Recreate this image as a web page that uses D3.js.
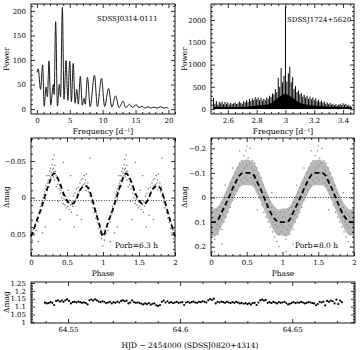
<!DOCTYPE html>
<html>
<head>
<meta charset="utf-8">
<script src="https://cdn.jsdelivr.net/npm/d3@7"></script>
<style>
body { margin: 0; background: #fff; }
</style>
</head>
<body>
<div id="chart"></div>
<script>
// periodogram of SDSSJ0314-0111 (peaks and troughs)
const freq1 = [0,0.2,0.55,0.87,1.1,1.4,1.6,1.83,2.1,2.5,2.62,2.85,3.12,3.4,3.6,3.87,4.12,4.43,4.7,4.99,5.25,5.52,5.8,6.06,6.3,6.6,6.9,7.15,7.35,7.68,8.1,8.75,9.2,9.82,10.3,10.9,11.4,11.96,12.5,13.1,13.5,14.1,14.5,15.1,15.5,16.0,16.4,16.9,17.3,17.8,18.3,18.8,19.3,19.7,20]
const pow1  = [75,82,40,90,6,45,25,98,8,50,30,178,6,50,25,207,20,99,18,98,15,93,12,40,10,67,8,22,10,65,5,69,5,63,5,42,4,27,3,16,3,10,3,9,3,6,2,5,2,4,2,5,2,3,2]

// periodogram of SDSSJ1724+5620: spike heights every 0.01 d-1 from 2.50
const freq2Start = 2.50, freq2Step = 0.01
const pow2 = [250,120,180,100,160,130,170,110,160,120,
  150,100,140,110,130,150,110,130,170,140,
  120,180,150,200,160,230,180,240,200,270,
  220,260,200,250,190,230,200,260,230,300,
  270,350,330,450,380,700,500,920,600,750,
  2300,620,800,950,600,720,450,520,380,420,
  330,360,280,320,260,300,230,280,220,260,
  200,240,180,210,160,190,140,170,120,150,
  110,140,100,120,90,110,80,100,120,90,
  130,100,120,80,100,70,50]
// floor of the forest, every 0.05 d-1
const floorFreq = [2.5,2.55,2.6,2.65,2.7,2.75,2.8,2.85,2.9,2.95,3.0,3.05,3.1,3.15,3.2,3.25,3.3,3.35,3.4,3.45,3.46]
const floorPow  = [45,50,45,45,50,60,80,90,130,260,340,250,140,95,80,65,55,50,45,40,30]

// folded light curve SDSSJ0314-0111 (Porb = 6.3 h), phase 0..1
const fit3Phase = [0,0.05,0.1,0.15,0.2,0.25,0.32,0.4,0.45,0.5,0.56,0.62,0.68,0.75,0.8,0.85,0.9,0.95,1]
const fit3Mag   = [0.053,0.04,0.026,0.012,-0.004,-0.019,-0.033,-0.02,-0.006,0.004,0.009,0.004,-0.01,-0.016,-0.012,0.002,0.02,0.037,0.053]
const obs3 = [[0.01,0.05],[0.02,0.058],[0.03,0.044],[0.04,0.049],[0.05,0.04],[0.06,0.036],[0.07,0.045],[0.08,0.03],[0.09,0.028],[0.1,0.033],
  [0.11,0.02],[0.12,0.022],[0.13,0.012],[0.14,0.018],[0.15,0.008],[0.16,0.004],[0.16,0.048],[0.17,0.0],[0.18,-0.004],[0.19,-0.008],
  [0.2,0.002],[0.2,-0.012],[0.21,-0.016],[0.22,-0.01],[0.22,-0.03],[0.23,-0.02],[0.24,-0.024],[0.25,-0.03],[0.25,-0.015],[0.26,-0.036],
  [0.27,-0.028],[0.27,-0.04],[0.28,-0.034],[0.29,-0.045],[0.29,-0.03],[0.3,-0.038],[0.3,-0.052],[0.31,-0.04],[0.31,-0.028],[0.32,-0.035],
  [0.32,-0.058],[0.33,-0.044],[0.33,-0.024],[0.34,-0.036],[0.35,-0.03],[0.35,-0.015],[0.36,-0.026],[0.37,-0.018],[0.38,-0.022],[0.38,0.005],
  [0.39,-0.012],[0.4,-0.016],[0.41,-0.006],[0.42,-0.01],[0.43,0.0],[0.44,-0.004],[0.45,0.008],[0.45,-0.048],[0.46,0.002],[0.47,0.01],
  [0.48,-0.002],[0.49,0.014],[0.5,0.006],[0.51,0.012],[0.52,-0.01],[0.53,0.016],[0.54,0.004],[0.55,0.01],[0.56,0.02],[0.57,0.006],
  [0.58,0.012],[0.59,-0.002],[0.6,0.008],[0.61,-0.006],[0.62,0.002],[0.63,-0.012],[0.64,0.024],[0.65,-0.004],[0.66,-0.014],[0.67,-0.008],
  [0.68,-0.02],[0.69,-0.012],[0.7,-0.024],[0.71,-0.016],[0.72,-0.026],[0.73,-0.018],[0.74,-0.03],[0.75,-0.02],[0.76,-0.024],[0.76,-0.01],
  [0.77,-0.032],[0.78,-0.016],[0.79,-0.02],[0.8,-0.008],[0.81,-0.014],[0.82,-0.002],[0.82,-0.054],[0.83,-0.006],[0.84,0.006],[0.85,0.002],
  [0.86,0.014],[0.87,0.008],[0.88,0.02],[0.89,0.016],[0.9,0.028],[0.91,0.022],[0.92,0.034],[0.93,0.03],[0.94,0.042],[0.95,0.036],
  [0.96,0.048],[0.97,0.044],[0.98,0.056],[0.99,0.05],[0.995,0.066],[0.1,0.06],[0.55,-0.03],[0.6,0.04],[0.4,0.03],[0.7,0.03],[0.2,0.04]]
const mean3 = 0.004

// folded light curve SDSSJ1724+5620 (Porb = 8.0 h), phase 0..1
const fit4Phase = [0,0.05,0.1,0.15,0.2,0.25,0.3,0.35,0.4,0.45,0.5,0.55,0.6,0.65,0.7,0.75,0.8,0.85,0.9,0.95,1]
const fit4Mag   = [0.1,0.1,0.09,0.06,0.03,0.0,-0.035,-0.065,-0.09,-0.1,-0.1,-0.1,-0.09,-0.06,-0.03,0.005,0.04,0.07,0.09,0.1,0.1]
const cloud4Top = [0.045,0.045,0.035,0.01,-0.02,-0.055,-0.085,-0.115,-0.14,-0.15,-0.155,-0.15,-0.14,-0.115,-0.08,-0.045,-0.01,0.02,0.04,0.05,0.045]
const cloud4Bot = [0.155,0.16,0.145,0.115,0.085,0.05,0.015,-0.015,-0.04,-0.05,-0.05,-0.05,-0.04,-0.01,0.02,0.055,0.09,0.12,0.145,0.155,0.155]
const obs4 = [[0.01,0.12],[0.02,0.06],[0.03,0.15],[0.04,0.08],[0.05,0.17],[0.06,0.1],[0.07,0.13],[0.08,0.05],[0.09,0.11],[0.1,0.15],
  [0.11,0.07],[0.12,0.12],[0.13,0.04],[0.14,0.09],[0.15,0.13],[0.16,0.02],[0.17,0.07],[0.18,0.1],[0.19,0.0],[0.2,0.05],
  [0.21,0.08],[0.22,-0.02],[0.23,0.03],[0.24,0.06],[0.25,-0.04],[0.26,0.0],[0.27,0.04],[0.28,-0.06],[0.29,-0.02],[0.3,0.01],
  [0.31,-0.08],[0.32,-0.04],[0.33,-0.01],[0.34,-0.1],[0.35,-0.06],[0.36,-0.03],[0.37,-0.12],[0.38,-0.08],[0.39,-0.05],[0.4,-0.14],
  [0.41,-0.1],[0.42,-0.07],[0.43,-0.15],[0.44,-0.11],[0.45,-0.06],[0.46,-0.17],[0.47,-0.12],[0.48,-0.08],[0.49,-0.19],[0.5,-0.13],
  [0.51,-0.07],[0.52,-0.16],[0.53,-0.1],[0.54,-0.14],[0.55,-0.2],[0.56,-0.08],[0.57,-0.12],[0.58,-0.15],[0.59,-0.06],[0.6,-0.11],
  [0.61,-0.14],[0.62,-0.05],[0.63,-0.09],[0.64,-0.12],[0.65,-0.03],[0.66,-0.07],[0.67,-0.1],[0.68,0.0],[0.69,-0.04],[0.7,-0.08],
  [0.71,0.03],[0.72,-0.01],[0.73,-0.05],[0.74,0.06],[0.75,0.02],[0.76,-0.02],[0.77,0.08],[0.78,0.04],[0.79,0.0],[0.8,0.1],
  [0.81,0.06],[0.82,0.02],[0.83,0.12],[0.84,0.08],[0.85,0.04],[0.86,0.14],[0.87,0.1],[0.88,0.06],[0.89,0.16],[0.9,0.11],
  [0.91,0.07],[0.92,0.18],[0.93,0.12],[0.94,0.08],[0.95,0.15],[0.96,0.1],[0.97,0.06],[0.98,0.14],[0.99,0.11],[1.0,0.08],
  [0.3,-0.12],[0.05,0.22],[0.65,0.05],[0.2,-0.05],[0.85,-0.02],[0.45,0.0],[0.4,-0.19],[0.5,-0.21],[0.95,0.2],[0.15,0.19]]

// light curve SDSSJ0820+4314
const hjdStart = 64.5397, hjdStep = 0.000828
const mag5 = [1.125,1.12,1.122,1.128,1.124,1.11,1.135,1.14,1.132,1.138,1.13,1.14,1.146,1.136,1.12,
  1.128,1.13,1.126,1.132,1.128,1.124,1.127,1.122,1.114,1.14,1.145,1.138,1.146,1.14,
  1.132,1.128,1.134,1.13,1.122,1.126,1.13,1.12,1.128,1.124,1.132,1.126,1.136,1.14,1.134,1.138,
  1.12,1.126,1.14,1.128,1.124,1.126,1.122,1.118,1.114,1.12,1.116,1.122,1.112,1.118,1.12,
  1.108,1.104,1.11,1.13,1.138,1.126,1.134,1.124,1.128,1.122,1.126,1.13,1.124,1.126,1.128,1.11,
  1.126,1.13,1.124,1.128,1.132,1.126,1.124,1.13,1.128,1.134,1.13,1.126,1.14,1.148,1.142,1.15,1.12,
  1.13,1.126,1.132,1.128,1.124,1.13,1.126,1.122,1.128,1.124,1.13,1.126,1.12,1.124,
  1.118,1.122,1.116,1.12,1.114,1.122,1.124,1.11,1.126,1.14,1.144,1.138,1.142,
  1.124,1.128,1.122,1.13,1.126,1.12,1.128,1.124,1.126,1.13,1.122,1.114,1.118,
  1.124,1.128,1.122,1.126,1.124,1.13,1.126,1.12,1.124,1.128,1.126,1.122,
  1.12,1.108,1.116,1.13,1.126,1.132,1.108,1.136,1.13,1.138,1.134,1.12,1.144,1.116,1.138,1.128]

const FONT = "DejaVu Serif"
const svg = d3.select("#chart").append("svg")
    .attr("width", 360)
    .attr("height", 350)

const fmt = d3.format("~g")
const minorTicks = (a, b, step, majors) => d3.range(Math.round(a / step), Math.round(b / step) + 1)
    .map(i => +(i * step).toFixed(4))
    .filter(v => !majors.some(m => Math.abs(m - v) < step / 10))

// frame with inward ticks on all four sides, PGPLOT style
function frame(x, y, t) {
  const [x0, x1] = x.range(), [y1, y0] = y.range()
  const g = svg.append("g")
  const add = (axis, tr) => g.append("g").attr("transform", tr).call(axis)
      .call(a => a.select(".domain").remove())
  const xMin = minorTicks(t.xm[0], t.xm[1], t.xm[2], t.xMaj)
  const yMin = minorTicks(t.ym[0], t.ym[1], t.ym[2], t.yMaj)
  add(d3.axisBottom(x).tickValues(t.xMaj).tickSize(-4).tickPadding(4.5).tickFormat(fmt), `translate(0,${y1})`)
  add(d3.axisBottom(x).tickValues(xMin).tickSize(-2).tickFormat(""), `translate(0,${y1})`)
  add(d3.axisTop(x).tickValues(t.xMaj).tickSize(-4).tickFormat(""), `translate(0,${y0})`)
  add(d3.axisTop(x).tickValues(xMin).tickSize(-2).tickFormat(""), `translate(0,${y0})`)
  add(d3.axisLeft(y).tickValues(t.yMaj).tickSize(-4).tickPadding(5).tickFormat(fmt), `translate(${x0},0)`)
  add(d3.axisLeft(y).tickValues(yMin).tickSize(-2).tickFormat(""), `translate(${x0},0)`)
  add(d3.axisRight(y).tickValues(t.yMaj).tickSize(-4).tickFormat(""), `translate(${x1},0)`)
  add(d3.axisRight(y).tickValues(yMin).tickSize(-2).tickFormat(""), `translate(${x1},0)`)
  g.selectAll("line").attr("stroke", "#000").attr("stroke-width", 0.8)
  g.selectAll("text").attr("font-family", FONT).attr("font-size", 7).attr("fill", "#000")
  g.append("rect")
      .attr("x", x0).attr("y", y0)
      .attr("width", x1 - x0).attr("height", y1 - y0)
      .attr("fill", "none").attr("stroke", "#000").attr("stroke-width", 0.9)
}

function label(txt, px, py, opts = {}) {
  const t = svg.append("text")
      .attr("font-family", FONT)
      .attr("font-size", opts.size || 7.5)
      .attr("text-anchor", opts.anchor || "middle")
      .attr("fill", "#000")
      .text(txt)
  if (opts.rotate) t.attr("transform", `translate(${px},${py}) rotate(-90)`)
  else t.attr("x", px).attr("y", py)
  return t
}

// ---- panel 1
const x1s = d3.scaleLinear().domain([-0.9, 21]).range([31, 175])
const y1s = d3.scaleLinear().domain([-10, 214]).range([114, 4])
svg.append("path")
    .datum(freq1.map((f, i) => [f, pow1[i]]))
    .attr("fill", "none")
    .attr("stroke", "#1a1a1a")
    .attr("stroke-width", 1)
    .attr("d", d3.line().x(d => x1s(d[0])).y(d => y1s(d[1])).curve(d3.curveMonotoneX))
frame(x1s, y1s, {xMaj: [0, 5, 10, 15, 20], xm: [0, 21, 1], yMaj: [0, 50, 100, 150, 200], ym: [0, 210, 10]})
label("SDSSJ0314-0111", 97, 21, {anchor: "start", size: 7})
label("Power", 9, 59, {rotate: true})
label("Frequency [d⁻¹]", 103, 134)

// ---- panel 2
const x2s = d3.scaleLinear().domain([2.483, 3.476]).range([211, 354])
const y2s = d3.scaleLinear().domain([-110, 2360]).range([114, 4])
svg.append("path")
    .datum(floorFreq.map((f, i) => [f, floorPow[i]]))
    .attr("fill", "#000")
    .attr("d", d3.area().x(d => x2s(d[0])).y0(y2s(0)).y1(d => y2s(d[1])).curve(d3.curveMonotoneX))
svg.append("g").selectAll("line")
  .data(pow2)
  .join("line")
    .attr("x1", (d, i) => x2s(freq2Start + i * freq2Step))
    .attr("x2", (d, i) => x2s(freq2Start + i * freq2Step))
    .attr("y1", y2s(0))
    .attr("y2", d => y2s(d))
    .attr("stroke", "#000")
    .attr("stroke-width", 1)
frame(x2s, y2s, {xMaj: [2.6, 2.8, 3, 3.2, 3.4], xm: [2.5, 3.45, 0.05], yMaj: [0, 500, 1000, 1500, 2000], ym: [0, 2300, 100]})
label("SDSSJ1724+5620", 287, 22, {anchor: "start", size: 7})
label("Power", 187, 59, {rotate: true})
label("Frequency [d⁻¹]", 283, 134)

// ---- folded light curves
function folded(xs, ys, obs, fitPh, fitMag, mean, band) {
  const g = svg.append("g")
  const both = obs.concat(obs.map(d => [d[0] + 1, d[1]])).filter(d => d[0] <= 2)
  if (band) {
    const b = band.ph.map((p, i) => [p, band.top[i], band.bot[i]])
    const b2 = b.concat(b.slice(1).map(d => [d[0] + 1, d[1], d[2]]))
    g.append("path").datum(b2)
        .attr("fill", "#b8b8b8")
        .attr("d", d3.area().x(d => xs(d[0])).y0(d => ys(d[2])).y1(d => ys(d[1])).curve(d3.curveMonotoneX))
  }
  g.selectAll("rect.pt")
    .data(both)
    .join("rect")
      .attr("class", "pt")
      .attr("x", d => xs(d[0]) - 0.65)
      .attr("y", d => ys(d[1]) - 0.65)
      .attr("width", 1.3).attr("height", 1.3)
      .attr("fill", band ? "#8a8a8a" : "#7a7a7a")
  g.append("line")
      .attr("x1", xs(0)).attr("x2", xs(2))
      .attr("y1", ys(mean)).attr("y2", ys(mean))
      .attr("stroke", "#222").attr("stroke-width", 0.9)
      .attr("stroke-dasharray", "1,1.6")
  const fit = fitPh.map((p, i) => [p, fitMag[i]])
  const fit2 = fit.concat(fit.slice(1).map(d => [d[0] + 1, d[1]]))
  g.append("path").datum(fit2)
      .attr("fill", "none")
      .attr("stroke", "#000")
      .attr("stroke-width", 1.8)
      .attr("stroke-dasharray", "5,3")
      .attr("d", d3.line().x(d => xs(d[0])).y(d => ys(d[1])).curve(d3.curveMonotoneX))
}

const x3s = d3.scaleLinear().domain([0, 2]).range([31, 175])
const y3s = d3.scaleLinear().domain([0.0796, -0.0813]).range([256, 138])
folded(x3s, y3s, obs3, fit3Phase, fit3Mag, mean3, null)
frame(x3s, y3s, {xMaj: [0, 0.5, 1, 1.5, 2], xm: [0, 2, 0.1], yMaj: [-0.05, 0, 0.05], ym: [-0.08, 0.07, 0.01]})
label("Porb=6.3 h", 115, 248, {anchor: "start"})
label("Δmag", 9, 197, {rotate: true})
label("Phase", 103, 276)

const x4s = d3.scaleLinear().domain([0, 2]).range([211, 354])
const y4s = d3.scaleLinear().domain([0.238, -0.242]).range([256, 138])
folded(x4s, y4s, obs4, fit4Phase, fit4Mag, 0, {ph: fit4Phase, top: cloud4Top, bot: cloud4Bot})
frame(x4s, y4s, {xMaj: [0, 0.5, 1, 1.5, 2], xm: [0, 2, 0.1], yMaj: [-0.2, -0.1, 0, 0.1, 0.2], ym: [-0.24, 0.22, 0.02]})
label("Porb=8.0 h", 295, 248, {anchor: "start"})
label("Δmag", 187, 197, {rotate: true})
label("Phase", 283, 276)

// ---- panel 5
const x5s = d3.scaleLinear().domain([64.5335, 64.678]).range([31, 355])
const y5s = d3.scaleLinear().domain([0.9955, 1.2564]).range([323, 282])
svg.append("g").selectAll("circle")
  .data(mag5)
  .join("circle")
    .attr("cx", (d, i) => x5s(hjdStart + i * hjdStep))
    .attr("cy", d => y5s(d))
    .attr("r", 1.1)
    .attr("fill", "#000")
frame(x5s, y5s, {xMaj: [64.55, 64.6, 64.65], xm: [64.54, 64.67, 0.01], yMaj: [1, 1.05, 1.1, 1.15, 1.2, 1.25], ym: [1, 1.25, 0.01]})
label("Δmag", 9, 302, {rotate: true})
label("HJD − 2454000 (SDSSJ0820+4314)", 190, 348)
</script>
</body>
</html>
